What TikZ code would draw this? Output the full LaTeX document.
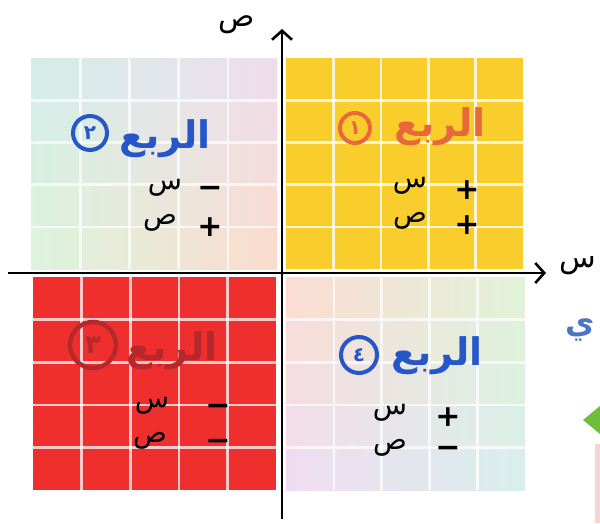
\documentclass[tikz,border=0pt]{standalone}
\usepackage{fontspec}
\newfontfamily\arabicfont[Script=Arabic]{DejaVu Sans}
\TeXXeTstate=1
\usetikzlibrary{arrows.meta}
\definecolor{qyellow}{HTML}{F8CD2C}
\definecolor{qred}{HTML}{EF2F2E}
\definecolor{ptl}{HTML}{D3EDEA}
\definecolor{ptr}{HTML}{EEDDF0}
\definecolor{pbl}{HTML}{DDF4DC}
\definecolor{pbr}{HTML}{FCDCCB}
\definecolor{rtl}{HTML}{FCDCD0}
\definecolor{rtr}{HTML}{E2F3D6}
\definecolor{rbl}{HTML}{EEDDF3}
\definecolor{rbr}{HTML}{D8EEEE}
\definecolor{torange}{HTML}{E9683B}
\definecolor{tblue}{HTML}{2557C9}
\definecolor{tdred}{HTML}{B5282B}
\definecolor{lblue}{HTML}{4A74C4}
\definecolor{sgreen}{HTML}{6DBF3A}
\definecolor{spink}{HTML}{F8D3D3}
\tikzset{
  gridl/.style={white, line width=2.6pt},
  title/.style={font=\arabicfont\bfseries\fontsize{38}{42}\selectfont, inner sep=0pt},
  circnum/.style={circle, draw, line width=4pt, inner sep=0pt, font=\arabicfont\bfseries\fontsize{20}{22}\selectfont},
  signtxt/.style={font=\arabicfont\bfseries\fontsize{30}{32}\selectfont, inner sep=0pt, black},
  letter/.style={font=\arabicfont\fontsize{28}{30}\selectfont, inner sep=0pt, black},
  axis/.style={line width=2.6pt, black},
  axtip/.style={-{Straight Barb[length=9pt,width=20pt,line width=2.6pt]}},
}
% bilinear pastel quadrant: #1,#2 = top-left corner, #3,#4 = width,height, #5..#8 = TL,TR,BL,BR colours
\newcommand{\pastelquad}[8]{%
  \foreach \j in {0,...,4} {
    \pgfmathtruncatemacro{\pv}{(\j+0.5)*20}
    \colorlet{rowl}{#7!\pv!#5}
    \colorlet{rowr}{#8!\pv!#6}
    \foreach \i in {0,...,4} {
      \pgfmathtruncatemacro{\ua}{\i*20}
      \pgfmathtruncatemacro{\ub}{(\i+1)*20}
      \colorlet{ca}{rowr!\ua!rowl}
      \colorlet{cb}{rowr!\ub!rowl}
      \fill[left color=ca, right color=cb] ({#1+\i*#3/5},{#2+\j*#4/5}) rectangle ({#1+(\i+1)*#3/5},{#2+(\j+1)*#4/5});
    }
  }
}
\begin{document}
\begin{tikzpicture}[x=1pt,y=-1pt]
\useasboundingbox (0,0) rectangle (600,523);
\clip (0,0) rectangle (600,523);
% Q2 pastel (top-left)
\pastelquad{31}{58}{246}{211}{ptl}{ptr}{pbl}{pbr}
\foreach \k in {1,...,4} {
  \draw[gridl, opacity=0.7] ({31+\k*246/5},58) -- ({31+\k*246/5},269);
  \draw[gridl, opacity=0.7] (31,{58+\k*211/5}) -- (277,{58+\k*211/5});
}
% Q1 yellow
\fill[qyellow] (286,58) rectangle (523,269);
\foreach \k in {1,...,4} {
  \draw[gridl, opacity=0.8] ({286+\k*237/5},58) -- ({286+\k*237/5},269);
  \draw[gridl, opacity=0.8] (286,{58+\k*211/5}) -- (523,{58+\k*211/5});
}
% Q3 red
\fill[qred] (33,277) rectangle (276,490);
\foreach \k in {1,...,4} {
  \draw[gridl, opacity=0.75] ({33+\k*243/5},277) -- ({33+\k*243/5},490);
  \draw[gridl, opacity=0.75] (33,{277+\k*213/5}) -- (276,{277+\k*213/5});
}
% Q4 pastel (bottom-right)
\pastelquad{286}{277}{239}{213}{rtl}{rtr}{rbl}{rbr}
\foreach \k in {1,...,4} {
  \draw[gridl, opacity=0.7] ({286+\k*239/5},277) -- ({286+\k*239/5},490);
  \draw[gridl, opacity=0.7] (286,{277+\k*213/5}) -- (525,{277+\k*213/5});
}
% axes
\coordinate (xs) at (8,273);
\coordinate (xe) at (546,273);
\coordinate (ys) at (282,519);
\coordinate (ye) at (282,29);
\draw[axis, axtip] (xs) -- (xe);
\draw[axis, axtip] (ys) -- (ye);
\node[letter, font=\arabicfont\fontsize{30}{32}\selectfont] (ylab) at (237,25) {\beginR ص\endR};
\node[letter, font=\arabicfont\fontsize{30}{32}\selectfont] (xlab) at (578,266) {\beginR س\endR};
% Q1
\node[title, torange] (t1) at (440,127) {\beginR الربع\endR};
\node[circnum, torange, minimum size=30pt] (c1) at (355,128) {١};
\node[signtxt] (s1a) at (467,190) {+};
\node[letter] (l1a) at (410,186) {\beginR س\endR};
\node[signtxt] (s1b) at (467,225) {+};
\node[letter] (l1b) at (410,221) {\beginR ص\endR};
% Q2
\node[title, tblue] (t2) at (165,139) {\beginR الربع\endR};
\node[circnum, tblue, minimum size=34pt] (c2) at (90,133) {٢};
\node[signtxt] (s2a) at (210,192) {−};
\node[letter] (l2a) at (165,188) {\beginR س\endR};
\node[signtxt] (s2b) at (210,227) {+};
\node[letter] (l2b) at (160,223) {\beginR ص\endR};
% Q3
\node[title, tdred] (t3) at (172,351) {\beginR الربع\endR};
\node[circnum, tdred, minimum size=46pt, line width=4.5pt, font=\arabicfont\bfseries\fontsize{26}{28}\selectfont] (c3) at (93,345) {٣};
\node[signtxt] (s3a) at (218,410) {−};
\node[letter] (l3a) at (152,406) {\beginR س\endR};
\node[signtxt] (s3b) at (218,445) {−};
\node[letter] (l3b) at (150,441) {\beginR ص\endR};
% Q4
\node[title, tblue] (t4) at (437,356) {\beginR الربع\endR};
\node[circnum, tblue, minimum size=36pt] (c4) at (359,355) {٤};
\node[signtxt] (s4a) at (448,417) {+};
\node[letter] (l4a) at (390,413) {\beginR س\endR};
\node[signtxt] (s4b) at (448,452) {−};
\node[letter] (l4b) at (390,448) {\beginR ص\endR};
% partial neighbours at right edge
\node[letter, lblue, font=\arabicfont\bfseries\fontsize{32}{34}\selectfont] (ya) at (580,330) {\beginR ي\endR};
\fill[sgreen] (583,420) -- (600,406) -- (600,434) -- cycle;
\fill[spink] (595,444) rectangle (600,523);
\end{tikzpicture}
\end{document}
